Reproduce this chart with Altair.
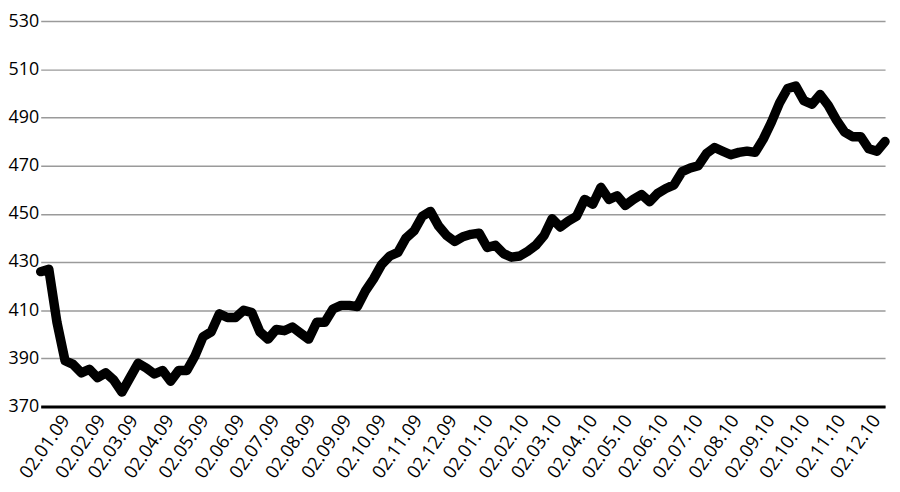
import altair as alt
import pandas as pd

# weekly index values
values = [
    426, 427, 405, 389, 387.5, 384, 385.5, 382, 384, 381,
    376, 382, 388, 386, 383.5, 385, 380.5, 385, 385, 391,
    399, 401, 408.5, 407, 407, 410, 409, 401, 398, 402,
    401.5, 403, 400.5, 398, 405, 405, 410.5, 412, 412, 411.5,
    418, 423, 429, 432.5, 434, 440, 443, 449, 451, 445,
    441, 438.5, 440.5, 441.5, 442, 436, 437, 433.5, 432, 432.5,
    434.5, 437, 441, 448, 444.5, 447, 449, 456, 454, 461,
    456, 457.5, 453.5, 456, 458, 455, 458.5, 460.5, 462, 467.5,
    469, 470, 475, 477.5, 476, 474.5, 475.5, 476, 475.5, 481,
    488, 496, 502, 503, 497, 495.5, 499.5, 495, 489, 484,
    482, 482, 477, 476, 480,
]
start_date = "2008-12-12"
dates = pd.date_range(start_date, periods=len(values), freq="7D")

tick_dates = [(2009, m) for m in range(1, 13)] + [(2010, m) for m in range(1, 13)]
y_ticks = [370, 390, 410, 430, 450, 470, 490, 510, 530]

df = pd.DataFrame({"date": dates.strftime("%Y-%m-%d"), "value": values})

font = "Open Sans"

chart = alt.Chart(df).mark_line(
    color="black", strokeWidth=9.5, strokeJoin="round", strokeCap="round"
).encode(
    x=alt.X(
        "date:T",
        scale=alt.Scale(
            type="utc",
            domain=[alt.DateTime(year=2008, month=12, date=12, utc=True),
                    alt.DateTime(year=2010, month=12, date=10, utc=True)],
            nice=False,
        ),
        axis=alt.Axis(
            title=None,
            values=[alt.DateTime(year=y, month=m, date=2, utc=True) for y, m in tick_dates],
            labelExpr="utcFormat(datum.value, '%d.%m.%y')",
            labelAngle=-55,
            labelAlign="right",
            labelBaseline="middle",
            labelFont=font,
            labelFontSize=18.5,
            labelColor="black",
            labelPadding=10,
            labelOverlap=False,
            ticks=False,
            grid=False,
            domainColor="black",
            domainWidth=3,
        ),
    ),
    y=alt.Y(
        "value:Q",
        scale=alt.Scale(domain=[370, 530], nice=False, zero=False),
        axis=alt.Axis(
            title=None,
            values=y_ticks,
            labelFont=font,
            labelFontSize=18,
            labelColor="black",
            labelPadding=2,
            ticks=False,
            domain=False,
            grid=True,
            gridColor="#9a9a9a",
            gridWidth=1.5,
        ),
    ),
).properties(
    width=852,
    height=389,
    autosize=alt.AutoSizeParams(type="none"),
    padding={"left": 33, "top": 11, "right": 7, "bottom": 84},
).configure_view(stroke=None)

chart.save("out.html", embed_options={"renderer": "svg", "actions": False})
